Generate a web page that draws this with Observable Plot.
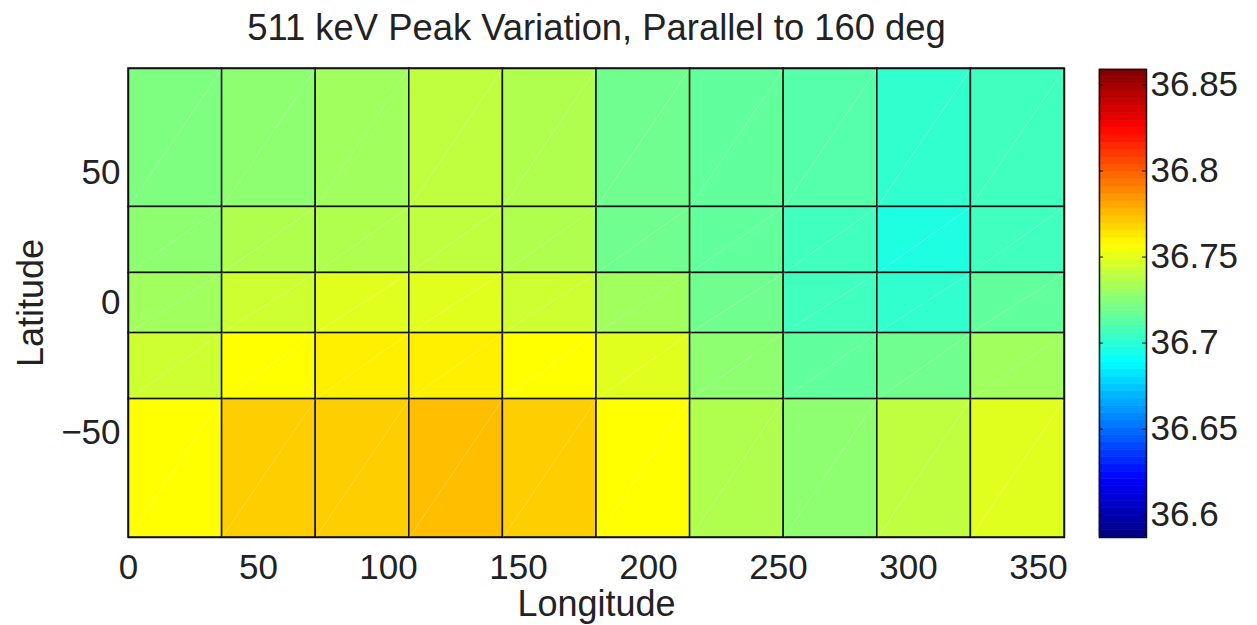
<!DOCTYPE html>
<html>
<head>
<meta charset="utf-8">
<script src="https://cdn.jsdelivr.net/npm/d3@7"></script>
<script src="https://cdn.jsdelivr.net/npm/@observablehq/plot@0.6"></script>
<style>
  body { margin: 0; background: #fff; }
  #chart { position: relative; width: 1257px; height: 625px; font-family: "Liberation Sans", Arial, Helvetica, sans-serif; }
  #chart svg { position: absolute; top: 0; }
</style>
</head>
<body>
<div id="chart"></div>
<script>
// Longitude bin edges (deg) and equal-area latitude band edges (deg), north to south
const longitudeEdges = [0, 36, 72, 108, 144, 180, 216, 252, 288, 324, 360];
const latitudeEdges = [90, 36.87, 11.54, -11.54, -36.87, -90];

// 511 keV peak centroid (keV) per longitude bin, one array per latitude band
const peakNorth    = [36.723, 36.727, 36.732, 36.740, 36.736, 36.719, 36.715, 36.712, 36.702, 36.706];
const peakMidNorth = [36.727, 36.736, 36.736, 36.740, 36.736, 36.719, 36.715, 36.706, 36.697, 36.706];
const peakEquator  = [36.732, 36.744, 36.749, 36.749, 36.744, 36.732, 36.719, 36.706, 36.702, 36.715];
const peakMidSouth = [36.744, 36.757, 36.761, 36.761, 36.757, 36.749, 36.727, 36.715, 36.719, 36.732];
const peakSouth    = [36.757, 36.770, 36.770, 36.774, 36.770, 36.757, 36.736, 36.727, 36.740, 36.749];
const peakBands = [peakNorth, peakMidNorth, peakEquator, peakMidSouth, peakSouth];

// Axis ticks and colour range
const longitudeTicks = [0, 50, 100, 150, 200, 250, 300, 350];
const latitudeTicks = [-50, 0, 50];
const colorTicks = [36.6, 36.65, 36.7, 36.75, 36.8, 36.85];
const colorDomain = [36.587, 36.859];
const colorLevels = 64;

const titleText = "511 keV Peak Variation, Parallel to 160 deg";
const fontFamily = '"Liberation Sans", Arial, Helvetica, sans-serif';
const ink = "#222";

// MATLAB-style "jet" colormap
function jet(t) {
  const c = v => Math.round(255 * Math.max(0, Math.min(1, v)));
  return `rgb(${c(1.5 - Math.abs(4 * t - 3))},${c(1.5 - Math.abs(4 * t - 2))},${c(1.5 - Math.abs(4 * t - 1))})`;
}
const colorScale = {type: "linear", domain: colorDomain, interpolate: () => jet};

// One record per grid cell
const cells = [];
peakBands.forEach((row, i) => {
  row.forEach((peak, j) => {
    cells.push({
      lon1: longitudeEdges[j], lon2: longitudeEdges[j + 1],
      latHigh: latitudeEdges[i], latLow: latitudeEdges[i + 1],
      peak
    });
  });
});

const mainPlot = Plot.plot({
  width: 1080, height: 625,
  marginLeft: 128, marginRight: 16, marginTop: 68, marginBottom: 88,
  style: {fontFamily, fontSize: "35px", color: ink, background: "transparent"},
  x: {domain: [0, 360]},
  y: {domain: [-90, 90]},
  color: colorScale,
  marks: [
    Plot.rect(cells, {x1: "lon1", x2: "lon2", y1: "latLow", y2: "latHigh", fill: "peak", stroke: "#111", strokeWidth: 1.5}),
    Plot.link(cells, {x1: "lon1", y1: "latLow", x2: "lon2", y2: "latHigh", stroke: "white", strokeOpacity: 0.22, strokeWidth: 1}),
    Plot.frame({stroke: "#111", strokeWidth: 1.5}),
    Plot.axisX(longitudeTicks, {tickSize: 0, tickPadding: 17, fontSize: 35, label: null}),
    Plot.axisY(latitudeTicks, {tickSize: 0, tickPadding: 8, fontSize: 35, label: null}),
    Plot.text(["Longitude"], {frameAnchor: "bottom", textAnchor: "middle", lineAnchor: "bottom", dy: 78, fontSize: 36}),
    Plot.text(["Latitude"], {frameAnchor: "left", textAnchor: "middle", lineAnchor: "bottom", rotate: -90, dx: -86, fontSize: 36}),
    Plot.text([titleText], {frameAnchor: "top", textAnchor: "middle", lineAnchor: "bottom", dy: -28.5, fontSize: 36.4})
  ]
});
mainPlot.style.left = "0px";

// Colour bar: discrete jet levels spanning the colour domain
const [lo, hi] = colorDomain;
const levels = d3.range(colorLevels).map(i => {
  const y1 = lo + (hi - lo) * i / colorLevels;
  const y2 = lo + (hi - lo) * (i + 1) / colorLevels;
  return {y1, y2, mid: (y1 + y2) / 2};
});

const barWidth = 47;
const colorBar = Plot.plot({
  width: 177, height: 625,
  marginLeft: 19, marginRight: 111, marginTop: 69, marginBottom: 88,
  style: {fontFamily, fontSize: "35px", color: ink, background: "transparent"},
  y: {domain: colorDomain},
  color: colorScale,
  marks: [
    Plot.rect(levels, {y1: "y1", y2: "y2", fill: "mid", stroke: "mid", strokeWidth: 0.6}),
    Plot.tickY(colorTicks, {stroke: "#111", insetRight: barWidth - 4}),
    Plot.tickY(colorTicks, {stroke: "#111", insetLeft: barWidth - 4}),
    Plot.frame({stroke: "#111", strokeWidth: 1.5}),
    Plot.axisY(colorTicks, {anchor: "right", tickSize: 0, tickPadding: 4, fontSize: 35, tickFormat: d => String(d), label: null})
  ]
});
colorBar.style.left = "1080px";

const chart = document.getElementById("chart");
chart.append(mainPlot, colorBar);
</script>
</body>
</html>
